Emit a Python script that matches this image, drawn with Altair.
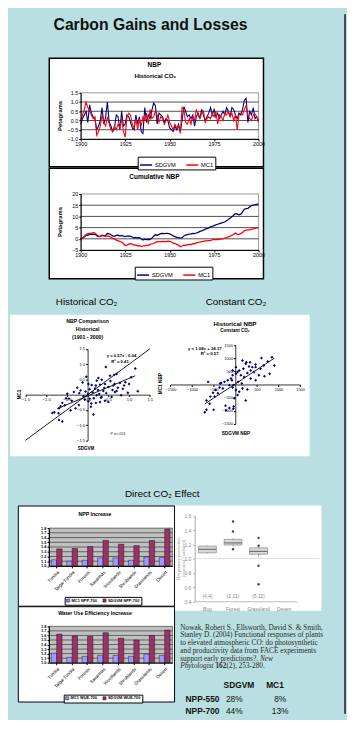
import altair as alt
import pandas as pd

BG = '#b9dfe2'
DARK = '#464646'
FONT = 'Liberation Sans'
SERIF = 'Liberation Serif'
NAVY = '#000080'
RED = '#ff0000'

# ---------------- data ----------------
years = list(range(1900, 2001))
year_ticks = [1900, 1925, 1950, 1975, 2000]
series_names = ['SDGVM', 'MC1']

nbp_sdgvm = [-0.2, 0.1, 0.3, 0.5, -0.1, 0.85, 0.4, 0.2, 0.1, -0.5,
             -0.3, 0.0, 0.7, -0.2, 0.2, 1.0, -0.1, -0.3, -0.6, -0.4,
             0.3, 0.2, -0.5, 0.5, -0.3, -0.2, 0.3, 0.2, -0.1, -0.4,
             -0.5, 0.3, -0.2, 0.2, -0.6, -0.7, 0.7, -0.1, 0.3, 0.1,
             0.55, 0.95, 0.8, -0.2, 0.4, 0.3, 0.2, -0.1, 0.1, 0.0,
             -0.4, -0.5, -0.6, -0.3, -0.5, -0.2, -0.6, 0.0, 0.75, 0.5,
             0.2, 0.3, 0.1, 0.3, -0.3, 0.2, 0.4, 0.1, 0.6, 0.3,
             0.0, 0.2, 0.4, 0.7, 0.3, 0.6, 0.2, 0.4, 0.1, 0.3,
             0.5, 0.3, 0.7, 0.5, 0.2, 0.7, 0.6, 0.3, 0.1, 0.4,
             0.3, 0.6, 1.1, 1.2, -0.1, 0.5, 0.3, 0.7, 0.1, 0.2,
             0.0]
nbp_mc1 = [0.0, 0.3, 0.6, 1.0, 0.7, 0.5, 0.3, 0.1, 0.2, -0.8,
           -0.6, -0.3, 0.3, -0.1, -0.3, 0.2, -0.2, -0.5, -0.6, -0.3,
           -0.5, -0.2, -0.4, 0.1, -0.6, -0.9, 0.2, 0.4, 0.3, -0.2,
           -0.4, 0.1, -0.5, 0.1, -0.3, 0.2, 0.0, 0.4, -0.2, 0.6,
           0.1, 0.2, 0.5, 0.3, -0.1, 0.2, 0.1, -0.2, 0.0, 0.3,
           -0.1, -0.3, -0.5, -0.2, -0.4, -0.3, -0.7, 0.7, 0.6, -0.1,
           -0.2, 0.1, -0.2, 0.2, 0.0, 0.6, 0.3, 0.1, 0.4, 0.5,
           -0.1, 0.1, 0.2, 0.1, 0.4, 0.2, 0.5, -0.2, 0.3, 0.2,
           0.0, 0.4, 0.3, 0.5, 0.2, 0.4, 0.0, 0.3, -0.5, 0.3,
           0.4, 0.3, 0.6, 0.8, 0.3, 0.1, 0.0, 0.3, 0.35, 0.2,
           -0.1]
nbp_ticks = [-1, -0.5, 0, 0.5, 1, 1.5]
nbp_grid = [-0.5, 0, 0.5, 1]

cum_sdgvm = [0.0, 0.3, 0.8, 1.5, 1.6, 2.0, 2.1, 2.0, 2.1, 1.4,
             1.0, 1.1, 1.6, 1.4, 1.5, 2.4, 2.2, 1.8, 1.3, 1.1,
             1.5, 1.6, 1.2, 1.5, 1.2, 1.0, 1.2, 1.3, 1.1, 0.8,
             0.4, 0.6, 0.4, 0.5, 0.0, -0.5, -0.2, -0.4, -0.2, -0.3,
             0.3, 1.2, 1.8, 1.6, 2.0, 2.3, 2.4, 2.3, 2.4, 2.4,
             2.2, 1.8, 1.3, 1.0, 0.6, 0.5, 0.3, 0.5, 1.3, 1.7,
             1.9, 2.1, 2.2, 2.4, 2.3, 2.6, 2.9, 3.3, 3.5, 3.9,
             4.3, 4.5, 4.9, 5.3, 5.6, 5.9, 6.2, 6.5, 6.8, 7.0,
             7.3, 7.5, 8.1, 8.6, 9.2, 9.8, 10.5, 11.3, 11.0, 10.7,
             11.0, 12.0, 13.2, 13.5, 13.6, 14.2, 14.8, 15.0, 15.2, 15.4,
             15.5]
cum_mc1 = [0.0, 0.4, 1.0, 1.9, 2.3, 2.4, 2.5, 2.7, 2.6, 1.8,
           1.2, 1.0, 1.4, 1.3, 1.1, 1.3, 1.1, 0.7, 0.2, -0.1,
           -0.6, -0.8, -1.2, -1.5, -2.1, -3.0, -2.8, -2.4, -2.2, -2.4,
           -2.8, -2.7, -3.2, -3.1, -3.4, -3.2, -3.2, -2.8, -3.0, -2.4,
           -2.3, -2.1, -1.6, -1.3, -1.4, -1.2, -1.1, -1.3, -1.3, -1.0,
           -1.1, -1.4, -1.9, -2.1, -2.5, -2.8, -3.5, -3.2, -2.8, -2.9,
           -2.6, -2.5, -2.6, -2.2, -2.2, -1.8, -1.6, -1.5, -1.2, -1.1,
           -0.9, -0.9, -0.8, -0.7, -0.5, -0.3, -0.3, -0.4, -0.2, 0.0,
           0.0, 0.3, 0.5, 0.8, 1.2, 1.6, 2.0, 2.6, 2.0, 2.0,
           2.3, 2.8, 3.6, 3.9, 4.0, 4.0, 4.3, 4.4, 4.7, 4.9,
           5.0]
cum_ticks = [-5, 0, 5, 10, 15, 20]
cum_grid = [0, 5, 10, 15]

hist_points = [(0.44, 0.91), (1.15, 0.86), (0.54, 0.62), (0.64, 0.65), (0.70, 0.68),
               (-0.03, 0.59), (0.91, 0.41), (0.22, 0.46), (0.34, 0.49), (0.02, 0.35),
               (0.10, 0.32), (0.20, 0.30), (0.30, 0.33), (0.42, 0.35), (0.50, 0.25),
               (0.62, 0.30), (0.73, 0.23), (0.85, 0.19), (0.66, 0.09), (-0.25, 0.23),
               (-0.17, 0.14), (-0.33, 0.09), (-0.49, 0.03), (-0.45, -0.13), (-0.61, -0.27),
               (-0.65, -0.38), (-0.69, -0.45), (-0.70, -0.61), (-0.69, -0.83), (-0.61, -0.88),
               (-0.41, -0.51), (-0.29, -0.45), (-0.21, -0.34), (0.14, -0.65), (0.09, -0.29),
               (0.20, -0.27), (0.30, -0.24), (0.42, -0.20), (0.50, -0.24), (0.05, -0.13),
               (-0.07, -0.16), (0.01, 0.03), (0.70, 0.12), (0.97, 0.06), (1.21, 0.11),
               (1.05, 0.57), (0.22, -0.02), (0.34, -0.08), (0.58, -0.08), (0.81, -0.02),
               (0.05, 0.18), (0.12, 0.08), (0.25, 0.15), (0.38, 0.12), (-0.10, -0.05),
               (-0.05, 0.10), (0.15, -0.12), (0.28, 0.02), (0.45, 0.05), (0.60, 0.15),
               (0.78, 0.38), (0.88, 0.30), (0.55, 0.45), (0.40, 0.22), (0.18, 0.20),
               (-0.38, -0.20), (-0.55, -0.35), (-0.80, -0.58), (-0.85, -0.60), (-0.52, -0.12),
               (-0.20, 0.05), (0.08, -0.40), (0.32, -0.10), (0.65, 0.35), (1.00, 0.35),
               (-0.12, 0.40), (0.02, -0.22), (0.26, 0.55)]
hist_fit_x = [-0.73, 1.15]
hist_fit_y = [-0.46, 0.62]
one_to_one = [-1.5, 1.5]
hist_xticks = [-1.5, -1.0, -0.5, 0.0, 0.5, 1.0, 1.5]
hist_yticks = [-1.5, -1, -0.5, 0.5, 1, 1.5]

const_points = [(606, 1009), (750, 872), (902, 722), (795, 411), (674, 311), (394, 660),
                (242, 785), (318, 685), (189, 598), (91, 535), (53, 473), (15, 411),
                (129, 349), (205, 286), (356, 224), (470, 162), (545, 349), (432, 473),
                (280, 436), (-61, 349), (-98, 224), (-174, 162), (-250, 100), (-348, 37),
                (-364, -112), (-455, -212), (-515, -311), (-576, -461), (-667, -610),
                (-705, -1058), (-667, -959), (-500, -959), (-227, -809), (-212, -984),
                (-136, -897), (-45, -921), (-38, -834), (-23, -523), (53, -398), (242, -610),
                (280, -187), (167, -149), (91, -274), (15, -212), (-61, -112), (-136, -25),
                (-288, -149), (-402, -336), (-477, -461), (-591, -735), (-629, 100), (-326, 62),
                (659, 722), (470, 660), (583, 598), (356, 535), (167, 909), (258, 847),
                (341, 847), (470, 760), (848, 1034), (-61, 535), (15, 660), (-76, 162),
                (68, 100), (152, 37), (-45, -25)]
const_fit_x = [-705, 900]
const_fit_y = [-740, 996]
const_ticks = [-1500, -1000, -500, 500, 1000, 1500]

biomes = ['Tundra', 'Taiga-Tundra', 'Forests', 'Savannas', 'Woodlands',
          'Shrublands', 'Grasslands', 'Desert']
npp_mc1 = [1.13, 1.10, 1.12, 1.17, 1.17, 1.12, 1.19, 1.18]
npp_sdgvm = [1.36, 1.37, 1.41, 1.54, 1.46, 1.43, 1.54, 1.78]
wue_mc1 = [1.21, 1.12, 1.14, 1.16, 1.16, 1.14, 1.19, 1.16]
wue_sdgvm = [1.63, 1.59, 1.58, 1.66, 1.54, 1.50, 1.60, 1.72]
bar_ticks = [1.0, 1.1, 1.2, 1.3, 1.4, 1.5, 1.6, 1.7, 1.8]
bar_grid = [1.1, 1.2, 1.3, 1.4, 1.5, 1.6, 1.7]

box_sites = ['Bog', 'Forest', 'Grassland', 'Desert']
box_cats = ['Bog', 'Forest', 'Grassland']
box_q1 = [1.08, 1.19, 1.06]
box_med = [1.13, 1.22, 1.10]
box_q3 = [1.175, 1.27, 1.15]
box_lo = [1.07, 1.17, 1.03]
box_hi = [1.18, 1.28, 1.16]
box_counts = ['(4,4)', '(2,11)', '(5,12)']
outlier_cats = ['Forest', 'Forest', 'Forest', 'Grassland', 'Grassland', 'Grassland', 'Grassland']
outlier_vals = [1.52, 1.38, 1.13, 1.29, 1.18, 0.90, 0.64]
box_ticks = [0.4, 0.6, 0.8, 1.0, 1.2, 1.4, 1.6]

cite_lines = ['Nowak, Robert S., Ellsworth, David S. & Smith,',
              'Stanley D. (2004) Functional responses of plants',
              'to elevated atmospheric CO: do photosynthetic',
              'and productivity data from FACE experiments',
              'support early predictions?.']
table_head = ['SDGVM', 'MC1']
table_rows = [['NPP-550', '28%', '8%'], ['NPP-700', '44%', '13%']]

# ---------------- layout helpers (page pixel -> canvas pixel) ----------------
W, H = 345, 712
OX, OY = 8, 8
ONE = pd.DataFrame({'k': [0]})


def X(v):
    return v - OX


def Y(v):
    return v - OY


def rect(x0, x1, y0, y1, **kw):
    return alt.Chart(ONE).mark_rect(**kw).encode(
        x=alt.value(X(x0)), x2=alt.value(X(x1)), y=alt.value(Y(y0)), y2=alt.value(Y(y1)))


def label(s, x, y, size=6.0, weight='normal', color='#000000', align='center',
          angle=0, font=FONT, style='normal'):
    kw = dict(text=s, fontSize=size, fontWeight=weight, color=color, align=align,
              baseline='middle', font=font, fontStyle=style)
    if angle:
        kw['angle'] = angle
    return alt.Chart(ONE).mark_text(**kw).encode(x=alt.value(X(x)), y=alt.value(Y(y)))


def ax(**kw):
    base = dict(title=None, grid=False, labelFont=FONT, labelFontSize=5.5, labelColor='#000000',
                tickColor='#000000', domainColor='#000000', tickSize=2, labelPadding=1,
                zindex=1, labelFlush=False)
    base.update(kw)
    return alt.Axis(**base)


def xaxis_at(y_img, **kw):
    return ax(orient='bottom', offset=Y(y_img) - H, **kw)


def yaxis_at(x_img, **kw):
    return ax(orient='left', offset=-X(x_img), **kw)


def qscale(domain, lo, hi):
    return alt.Scale(domain=domain, range=[lo, hi], nice=False, zero=False)


def line_legend(x_img, y_img):
    return alt.Legend(orient='none', legendX=X(x_img), legendY=Y(y_img), direction='horizontal',
                      title=None, symbolType='stroke', symbolStrokeWidth=1.5, symbolSize=150,
                      labelFont=FONT, labelFontSize=5.8, padding=1.5, strokeColor='#000000',
                      fillColor='#ffffff', columnPadding=6, labelOffset=2)


layers = []

# ---------------- page furniture ----------------
layers += [
    rect(350, 352, 8, 8 + H, fill=DARK),
    label('Carbon Gains and Losses', 153, 19, 16, 'bold', '#111111'),
    label('Historical CO₂', 88, 301, 10),
    label('Constant CO₂', 240, 301, 10),
    label('Direct CO₂ Effect', 165, 496, 10),
]


# ---------------- NBP time series panels ----------------
def series_panel(box_y0, box_y1, top, bottom, dom, ticks, grid, s1, s2, width, title, title_y,
                 pet_y, leg):
    xs = qscale([1900, 2000], X(82), X(263))
    ys = qscale(dom, Y(bottom), Y(top))
    df = pd.DataFrame({'year': years + years, 'val': s1 + s2,
                       'series': [series_names[0]] * len(years) + [series_names[1]] * len(years)})
    return [
        rect(50, 268, box_y0, box_y1, fill='#ffffff', stroke='#000000', strokeWidth=1.5),
        rect(82, 263, top, bottom, fill='#ffffff', stroke='#808080', strokeWidth=0.8),
        alt.Chart(pd.DataFrame({'val': grid})).mark_rule(color='#000000', strokeWidth=0.7).encode(
            y=alt.Y('val:Q', scale=ys, axis=None), x=alt.value(X(82)), x2=alt.value(X(263))),
        alt.Chart(df).mark_line(strokeWidth=width).encode(
            x=alt.X('year:Q', scale=xs, axis=xaxis_at(bottom, values=year_ticks, format='d')),
            y=alt.Y('val:Q', scale=ys, axis=yaxis_at(82, values=ticks)),
            color=alt.Color('series:N', scale=alt.Scale(domain=series_names, range=[NAVY, RED]),
                            legend=leg)),
        label(title[0], 157, title_y, 6.6, 'bold'),
    ] + ([label(title[1], 158, title_y + 10.5, 6.3, 'bold')] if len(title) > 1 else []) + [
        label('Petagrams', 60.5, pet_y, 6, 'bold', angle=270),
    ]


layers += series_panel(52.75, 163.25, 88, 135, [-1, 1.5], nbp_ticks, nbp_grid, nbp_sdgvm, nbp_mc1,
                       1.1, ['NBP', 'Historical CO₂'], 60, 111.5, line_legend(140, 153))
layers += series_panel(164.75, 277.25, 191, 248, [-5, 20], cum_ticks, cum_grid, cum_sdgvm, cum_mc1,
                       1.3, ['Cumulative NBP'], 173.5, 219.5, line_legend(137, 265))

# ---------------- scatter panels ----------------
layers.append(rect(10, 315, 314, 458, fill='#ffffff'))

xs1 = qscale([-1.5, 1.5], X(25.7), X(152.3))
ys1 = qscale([-1.5, 1.5], Y(441.7), Y(348.7))
hist_df = pd.DataFrame(hist_points, columns=['x', 'y'])
hist_lines = pd.DataFrame({'x': one_to_one + hist_fit_x, 'y': one_to_one + hist_fit_y,
                           'line': ['1:1', '1:1', 'fit', 'fit']})
layers += [
    alt.Chart(hist_lines).mark_line(color='#000000', strokeWidth=0.9).encode(
        x=alt.X('x:Q', scale=xs1, axis=None), y=alt.Y('y:Q', scale=ys1, axis=None), detail='line:N'),
    alt.Chart(hist_df).mark_point(shape='diamond', filled=True, size=9, color=NAVY, opacity=1).encode(
        x=alt.X('x:Q', scale=xs1, axis=xaxis_at(395.2, values=hist_xticks, format='.1f',
                                                 labelFontSize=4.2, labelOverlap=False, domainWidth=0.8)),
        y=alt.Y('y:Q', scale=ys1, axis=yaxis_at(89, values=hist_yticks, labelFontSize=4.2,
                                                 labelOverlap=False, domainWidth=0.8))),
    label('NBP Comparison', 89, 320, 5.3, 'bold'),
    label('Historical', 89, 328, 5.3, 'bold'),
    label('(1901 - 2000)', 89, 336.5, 5.3, 'bold'),
    label('y = 0.57x - 0.04', 123.5, 355.5, 4.3, 'bold'),
    label('R² = 0.41', 122, 361.5, 4.3, 'bold'),
    label('P =<.001', 120, 435.7, 3.8, color='#222222'),
    label('SDGVM', 87.3, 450.7, 4.6, 'bold'),
    label('MC1', 20, 395, 4.6, 'bold', angle=270),
]

xs2 = qscale([-1500, 1500], X(173.3), X(305.3))
ys2 = qscale([-1500, 1500], Y(425), Y(344.7))
const_df = pd.DataFrame(const_points, columns=['x', 'y'])
const_lines = pd.DataFrame({'x': const_fit_x, 'y': const_fit_y})
layers += [
    alt.Chart(const_lines).mark_line(color='#000000', strokeWidth=0.9).encode(
        x=alt.X('x:Q', scale=xs2, axis=None), y=alt.Y('y:Q', scale=ys2, axis=None)),
    alt.Chart(const_df).mark_point(shape='diamond', filled=True, size=9, color=NAVY, opacity=1).encode(
        x=alt.X('x:Q', scale=xs2, axis=xaxis_at(384.85, values=const_ticks, format='d',
                                                 labelFontSize=3.9, labelOverlap=False, domainWidth=0.8)),
        y=alt.Y('y:Q', scale=ys2, axis=yaxis_at(239.3, values=const_ticks, format='d',
                                                 labelFontSize=3.9, labelOverlap=False, domainWidth=0.8))),
    label('Historical NBP', 239, 323, 6.3, 'bold'),
    label('Constant CO₂', 239, 330.5, 4.6, 'bold'),
    label('y = 1.08x + 24.17', 208.3, 348.3, 4.4, 'bold'),
    label('R² = 0.57', 213.3, 354, 4.4, 'bold'),
    label('SDGVM NBP', 240, 435.7, 4.8, 'bold'),
    label('MC1 NBP', 163.5, 384, 4.8, 'bold', angle=270),
]


# ---------------- bar chart panels ----------------
def bar_panel(box_y0, box_y1, top, bottom, title, title_y, mc1, sdg, names, leg_x, leg_y):
    xb = alt.Scale(domain=biomes, range=[X(49.7), X(175.3)], paddingInner=0.3, paddingOuter=0.15)
    yb = qscale([1.0, 1.8], Y(bottom), Y(top))
    colscale = alt.Scale(domain=names, range=['#9999ff', '#993366'])
    legend = alt.Legend(orient='none', legendX=X(leg_x), legendY=Y(leg_y), direction='horizontal',
                        title=None, symbolType='square', symbolSize=10,
                        symbolStrokeColor='#000000', symbolStrokeWidth=0.5,
                        labelFont=FONT, labelFontSize=4, labelFontWeight='bold',
                        padding=1.5, strokeColor='#000000', fillColor='#ffffff',
                        columnPadding=4, labelOffset=1.5)
    d1 = pd.DataFrame({'cat': biomes, 'val': mc1, 'series': [names[0]] * len(biomes)})
    d2 = pd.DataFrame({'cat': biomes, 'val': sdg, 'series': [names[1]] * len(biomes)})
    return [
        rect(18.5, 177.5, box_y0, box_y1, fill='#ffffff', stroke='#000000', strokeWidth=1),
        rect(49.7, 175.3, top, bottom, fill='#c0c0c0', stroke='#000000', strokeWidth=0.5),
        alt.Chart(pd.DataFrame({'val': bar_grid})).mark_rule(color='#000000', strokeWidth=0.5).encode(
            y=alt.Y('val:Q', scale=yb, axis=None), x=alt.value(X(49.7)), x2=alt.value(X(175.3))),
        alt.Chart(d1).mark_bar(width=5.5, xOffset=-2.75, stroke='#000000', strokeWidth=0.4).encode(
            x=alt.X('cat:N', sort=biomes, scale=xb,
                    axis=xaxis_at(bottom, labelAngle=315, labelFontSize=4.6, labelPadding=1.5)),
            y=alt.Y('val:Q', scale=yb, axis=yaxis_at(49.7, values=bar_ticks, format='.1f',
                                                      labelFontSize=4, labelFontWeight='bold')),
            y2=alt.datum(1.0),
            color=alt.Color('series:N', scale=colscale, legend=legend)),
        alt.Chart(d2).mark_bar(width=5.5, xOffset=2.75, stroke='#000000', strokeWidth=0.4).encode(
            x=alt.X('cat:N', sort=biomes, scale=xb, axis=None),
            y=alt.Y('val:Q', scale=yb, axis=None),
            y2=alt.datum(1.0),
            color=alt.Color('series:N', scale=colscale, legend=None)),
        label(title, 96.5, title_y, 5.3, 'bold'),
    ]


layers += bar_panel(508.5, 610.5, 531, 569.5, 'NPP Increase', 517, npp_mc1, npp_sdgvm,
                    ['MC1 NPP-700', 'SDGVM NPP-700'], 65.7, 601)
layers += bar_panel(611, 708, 631, 668, 'Water Use Efficiency Increase', 617, wue_mc1, wue_sdgvm,
                    ['MC1 WUE-700', 'SDGVM WUE-700'], 64.7, 700.5)

# ---------------- box plot (Nowak et al.) ----------------
xsb = alt.Scale(domain=box_sites, range=[X(198), X(302)], paddingInner=0.3, paddingOuter=0.15)
ysb = qscale([0.4, 1.6], Y(605.5), Y(518.5))
box_df = pd.DataFrame({'cat': box_cats, 'q1': box_q1, 'med': box_med, 'q3': box_q3,
                       'lo': box_lo, 'hi': box_hi, 'n': box_counts})
out_df = pd.DataFrame({'cat': outlier_cats, 'val': outlier_vals})
layers += [
    rect(178, 327, 508, 615, fill='#ffffff'),
    alt.Chart(ONE).mark_rule(color='#d6d6d6', strokeWidth=0.8).encode(
        y=alt.Y(datum=1.0, scale=ysb, axis=None), x=alt.value(X(198)), x2=alt.value(X(325))),
    alt.Chart(box_df).mark_rule(color='#777777', strokeWidth=0.7).encode(
        x=alt.X('cat:N', scale=xsb, axis=xaxis_at(605.5, labelAngle=0, labelFontSize=5,
                                                   labelColor='#888888', ticks=False,
                                                   domainColor='#bbbbbb', labelPadding=5)),
        y=alt.Y('lo:Q', scale=ysb, axis=yaxis_at(198, values=box_ticks, format='.1f', labelFontSize=5,
                                                  labelColor='#888888', tickColor='#aaaaaa',
                                                  domainColor='#aaaaaa', labelPadding=2)),
        y2='hi:Q'),
    alt.Chart(box_df).mark_rect(fill='#d9d9d9', stroke='#777777', strokeWidth=0.6).encode(
        x=alt.X('cat:N', scale=xsb, axis=None), y=alt.Y('q1:Q', scale=ysb, axis=None), y2='q3:Q'),
    alt.Chart(box_df).mark_tick(orient='horizontal', size=18, thickness=1.2, color='#444444').encode(
        x=alt.X('cat:N', scale=xsb, axis=None), y=alt.Y('med:Q', scale=ysb, axis=None)),
    alt.Chart(out_df).mark_point(filled=True, size=6, color='#444444', opacity=1).encode(
        x=alt.X('cat:N', scale=xsb, axis=None), y=alt.Y('val:Q', scale=ysb, axis=None)),
    alt.Chart(box_df).mark_text(fontSize=5, color='#888888', font=FONT).encode(
        x=alt.X('cat:N', scale=xsb, axis=None), y=alt.Y(datum=0.48, scale=ysb, axis=None), text='n:N'),
    label('Net primary production', 182.5, 562, 4.3, color='#999999', angle=270),
    label('(elevated / ambient)', 187, 562, 4.3, color='#999999', angle=270),
]

# ---------------- citation and table ----------------
CITE = '#2b2b2b'
CS = 7.45
layers += [label(s, 183.3, 632.3 + 7.9 * i, CS, color=CITE, align='left', font=SERIF)
           for i, s in enumerate(cite_lines)]
layers += [
    label('New', 264.4, 632.3 + 7.9 * 4, CS, color=CITE, align='left', font=SERIF, style='italic'),
    label('Phytologist', 183.3, 632.3 + 7.9 * 5, CS, color=CITE, align='left', font=SERIF, style='italic'),
    label('162', 219.1, 632.3 + 7.9 * 5, CS, 'bold', CITE, align='left', font=SERIF),
    label(' (2), 253-280.', 230.3, 632.3 + 7.9 * 5, CS, color=CITE, align='left', font=SERIF),
    label(table_head[0], 243, 691, 8.5, 'bold', '#111111'),
    label(table_head[1], 279.7, 691, 8.5, 'bold', '#111111'),
]
for i, row in enumerate(table_rows):
    yy = 704.5 + 12.8 * i
    layers += [label(row[0], 188.7, yy, 8.5, 'bold', '#111111', align='left'),
               label(row[1], 238.3, yy, 8.5, color='#111111'),
               label(row[2], 285, yy, 8.5, color='#111111')]

chart = alt.layer(*layers).resolve_scale(
    x='independent', y='independent', color='independent'
).resolve_legend(color='independent').properties(
    width=W, height=H, padding=0, background=BG,
    autosize=alt.AutoSizeParams(type='none'),
).configure_view(strokeWidth=0)

chart.save('out.html', embed_options={'renderer': 'svg', 'actions': False})
